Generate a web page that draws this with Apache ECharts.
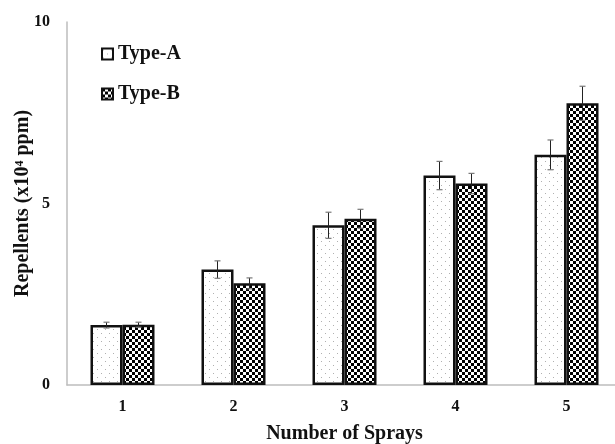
<!DOCTYPE html>
<html><head><meta charset="utf-8">
<script src="https://cdn.jsdelivr.net/npm/echarts@6/dist/echarts.min.js"></script>
<style>html,body{margin:0;padding:0;background:#fff}#c{width:615px;height:444px}</style>
</head><body><div id="c"></div>
<script>
var categories = ['1','2','3','4','5'];
var typeA = [1.65, 3.18, 4.40, 5.77, 6.34];
var typeB = [1.66, 2.80, 4.58, 5.55, 7.76];
var errA = [0.08, 0.24, 0.36, 0.39, 0.41];
var errB = [0.07, 0.15, 0.26, 0.28, 0.47];
var yTicks = [0, 5, 10];

function makePattern(kind){
  var c = document.createElement('canvas');
  var ctx = c.getContext('2d');
  if(kind==='dots'){
    c.width=8;c.height=8;
    ctx.fillStyle='#fff';ctx.fillRect(0,0,8,8);
    ctx.fillStyle='#b0b0b0';
    ctx.fillRect(1,1,1,1);ctx.fillRect(5,5,1,1);
  } else {
    c.width=6;c.height=6;
    ctx.fillStyle='#fff';ctx.fillRect(0,0,6,6);
    ctx.fillStyle='#000';
    ctx.fillRect(0,0,3,3);ctx.fillRect(3,3,3,3);
  }
  return {image:c, repeat:'repeat'};
}
var patA = makePattern('dots'), patB = makePattern('check');
var BW = 32;
var font = 'Liberation Serif';

function errSeries(vals, errs, offset){
  return {
    type:'custom', z:10, silent:true,
    data: vals.map(function(v,i){return [i, v, errs[i]];}),
    renderItem:function(params, api){
      var i=api.value(0), v=api.value(1), e=api.value(2);
      var top=api.coord([i, v+e]), bot=api.coord([i, v-e]);
      var x=top[0]+offset;
      return {type:'group', children:[
        {type:'line', shape:{x1:x,y1:top[1],x2:x,y2:bot[1]}, style:{stroke:'#222',lineWidth:1}},
        {type:'line', shape:{x1:x-3,y1:top[1],x2:x+3,y2:top[1]}, style:{stroke:'#777',lineWidth:1.2}},
        {type:'line', shape:{x1:x-3,y1:bot[1],x2:x+3,y2:bot[1]}, style:{stroke:'#777',lineWidth:1.2}}
      ]};
    }
  };
}

var chart = echarts.init(document.getElementById('c'));
chart.setOption({
  animation:false,
  grid:{left:67, top:22, width:555, bottom:59, outerBoundsMode:'none', containLabel:false},
  legend:{
    orient:'vertical', left:96, top:39, itemWidth:11, itemHeight:11, itemGap:20, icon:'rect',
    data:['Type-A','Type-B'],
    textStyle:{fontFamily:font, fontWeight:'bold', fontSize:20, color:'#111'}
  },
  xAxis:{
    type:'category', data:categories,
    axisLine:{lineStyle:{color:'#bdbdbd', width:1.5}},
    axisTick:{show:false},
    axisLabel:{fontFamily:font, fontWeight:'bold', fontSize:16, color:'#111', margin:14},
    name:'Number of Sprays', nameLocation:'middle', nameGap:39, nameMoveOverlap:false,
    nameTextStyle:{fontFamily:font, fontWeight:'bold', fontSize:20, color:'#111'}
  },
  yAxis:{
    type:'value', min:0, max:10, interval:5,
    axisLine:{show:true, lineStyle:{color:'#bdbdbd', width:1.5}},
    axisTick:{show:false}, splitLine:{show:false},
    axisLabel:{fontFamily:font, fontWeight:'bold', fontSize:16, color:'#111', margin:17,
      formatter:function(v){return yTicks.indexOf(v)>=0?String(v):'';}},
    name:'Repellents (x10\u2074 ppm)', nameLocation:'middle', nameGap:34, nameMoveOverlap:false,
    nameTextStyle:{fontFamily:font, fontWeight:'bold', fontSize:20, color:'#111'}
  },
  series:[
    {name:'Type-A', type:'bar', data:typeA, barWidth:BW, barGap:'0%',
     itemStyle:{color:patA, borderColor:'#111', borderWidth:2.5}},
    {name:'Type-B', type:'bar', data:typeB, barWidth:BW, barGap:'0%',
     itemStyle:{color:patB, borderColor:'#111', borderWidth:2.5}},
    errSeries(typeA, errA, -BW/2),
    errSeries(typeB, errB, BW/2)
  ]
});
</script></body></html>
